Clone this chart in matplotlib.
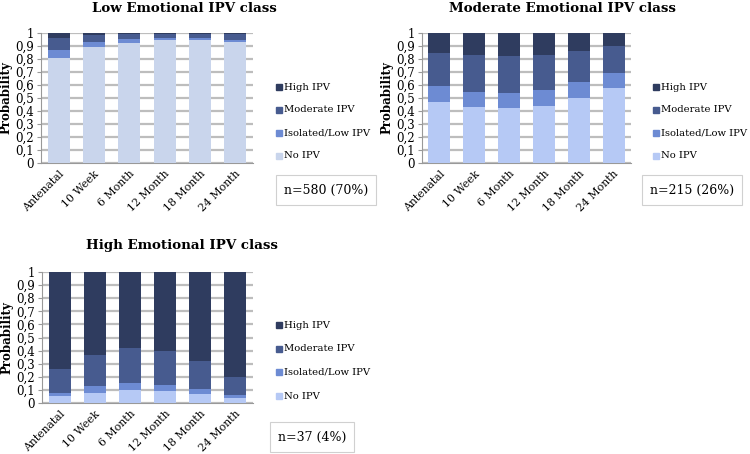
import matplotlib
matplotlib.use("Agg")
import matplotlib.pyplot as plt
import numpy as np

plt.rcParams['font.family'] = ['DejaVu Serif']

categories = ["Antenatal", "10 Week", "6 Month", "12 Month", "18 Month", "24 Month"]
series_names = ["No IPV", "Isolated/Low IPV", "Moderate IPV", "High IPV"]

low_no = [0.81, 0.89, 0.925, 0.945, 0.945, 0.93]
low_iso = [0.06, 0.04, 0.03, 0.015, 0.015, 0.02]
low_mod = [0.095, 0.055, 0.035, 0.03, 0.03, 0.04]
low_high = [0.035, 0.015, 0.01, 0.01, 0.01, 0.01]

mod_no = [0.47, 0.43, 0.42, 0.44, 0.50, 0.58]
mod_iso = [0.12, 0.12, 0.12, 0.12, 0.12, 0.11]
mod_mod = [0.26, 0.28, 0.28, 0.27, 0.24, 0.21]
mod_high = [0.15, 0.17, 0.18, 0.17, 0.14, 0.10]

high_no = [0.05, 0.08, 0.10, 0.09, 0.07, 0.04]
high_iso = [0.03, 0.05, 0.05, 0.05, 0.04, 0.02]
high_mod = [0.18, 0.24, 0.27, 0.26, 0.21, 0.14]
high_high = [0.74, 0.63, 0.58, 0.60, 0.68, 0.80]

titles = ["Low Emotional IPV class", "Moderate Emotional IPV class", "High Emotional IPV class"]
n_labels = ["n=580 (70%)", "n=215 (26%)", "n=37 (4%)"]

c_high = "#2f3c5f"
c_mod = "#475b8f"
c_iso = "#6d8bd3"
c_no = "#b6c9f5"
c_no_low = "#c9d5ec"

W, H = 750, 454
fig = plt.figure(figsize=(7.5, 4.54), dpi=100)

def px_axes(x0, y0, x1, y1):
    return fig.add_axes([x0 / W, 1 - y1 / H, (x1 - x0) / W, (y1 - y0) / H])

panels = [
    dict(box=(41, 33, 253, 163), data=[low_no, low_iso, low_mod, low_high], no_color=c_no_low,
         title_xy=(184, 9), leg=(276, 87, 23), nbox=(326, 190)),
    dict(box=(422, 33, 631, 163), data=[mod_no, mod_iso, mod_mod, mod_high], no_color=c_no,
         title_xy=(562, 9), leg=(653, 87, 23), nbox=(692, 190)),
    dict(box=(42, 272, 253, 403), data=[high_no, high_iso, high_mod, high_high], no_color=c_no,
         title_xy=(182, 246), leg=(276, 325, 23.7), nbox=(312, 437)),
]

for p, title, nl in zip(panels, titles, n_labels):
    ax = px_axes(*p["box"])
    x = np.arange(len(categories))
    colors = [p["no_color"], c_iso, c_mod, c_high]
    bottom = np.zeros(len(categories))
    for vals, col in zip(p["data"], colors):
        ax.bar(x, vals, bottom=bottom, width=0.63, color=col, zorder=3)
        bottom += np.array(vals)
    ax.set_xlim(-0.5, len(categories) - 0.5)
    ax.set_ylim(0, 1)
    ticks = np.round(np.arange(0, 1.01, 0.1), 1)
    ax.set_yticks(ticks)
    ax.set_yticklabels(["0" if t == 0 else ("1" if t == 1 else f"{t:.1f}".replace(".", ",")) for t in ticks],
                       fontsize=8.5)
    ax.grid(axis="y", color="#bdbdbd", linewidth=1.6, zorder=0)
    ax.set_xticks(x)
    ax.set_xticklabels(categories, rotation=45, ha="right", rotation_mode="anchor", fontsize=7.8)
    ax.tick_params(axis="x", length=0, pad=4)
    ax.tick_params(axis="y", length=3, color="#999999", pad=2)
    for s in ["top", "right"]:
        ax.spines[s].set_visible(False)
    for s in ["left", "bottom"]:
        ax.spines[s].set_color("#999999")
    ax.set_ylabel("Probability", fontsize=8.5, fontweight="bold", labelpad=2)
    fig.text(p["title_xy"][0] / W, 1 - p["title_xy"][1] / H, title, ha="center", va="center",
             fontsize=9.6, fontweight="bold")
    lx, ly, dy = p["leg"]
    for i, (name, col) in enumerate(zip(series_names[::-1], colors[::-1])):
        yy = ly + i * dy
        fig.patches.append(plt.Rectangle((lx / W, 1 - (yy + 3) / H), 6 / W, 6 / H,
                                         transform=fig.transFigure, color=col, figure=fig))
        fig.text((lx + 8) / W, 1 - yy / H, name, ha="left", va="center", fontsize=7.2)
    nx, ny = p["nbox"]
    fig.text(nx / W, 1 - ny / H, nl, ha="center", va="center", fontsize=9,
             bbox=dict(boxstyle="square,pad=0.65", fc="white", ec="#d0d0d0", lw=0.8))

fig.savefig("out.png", dpi=100)
